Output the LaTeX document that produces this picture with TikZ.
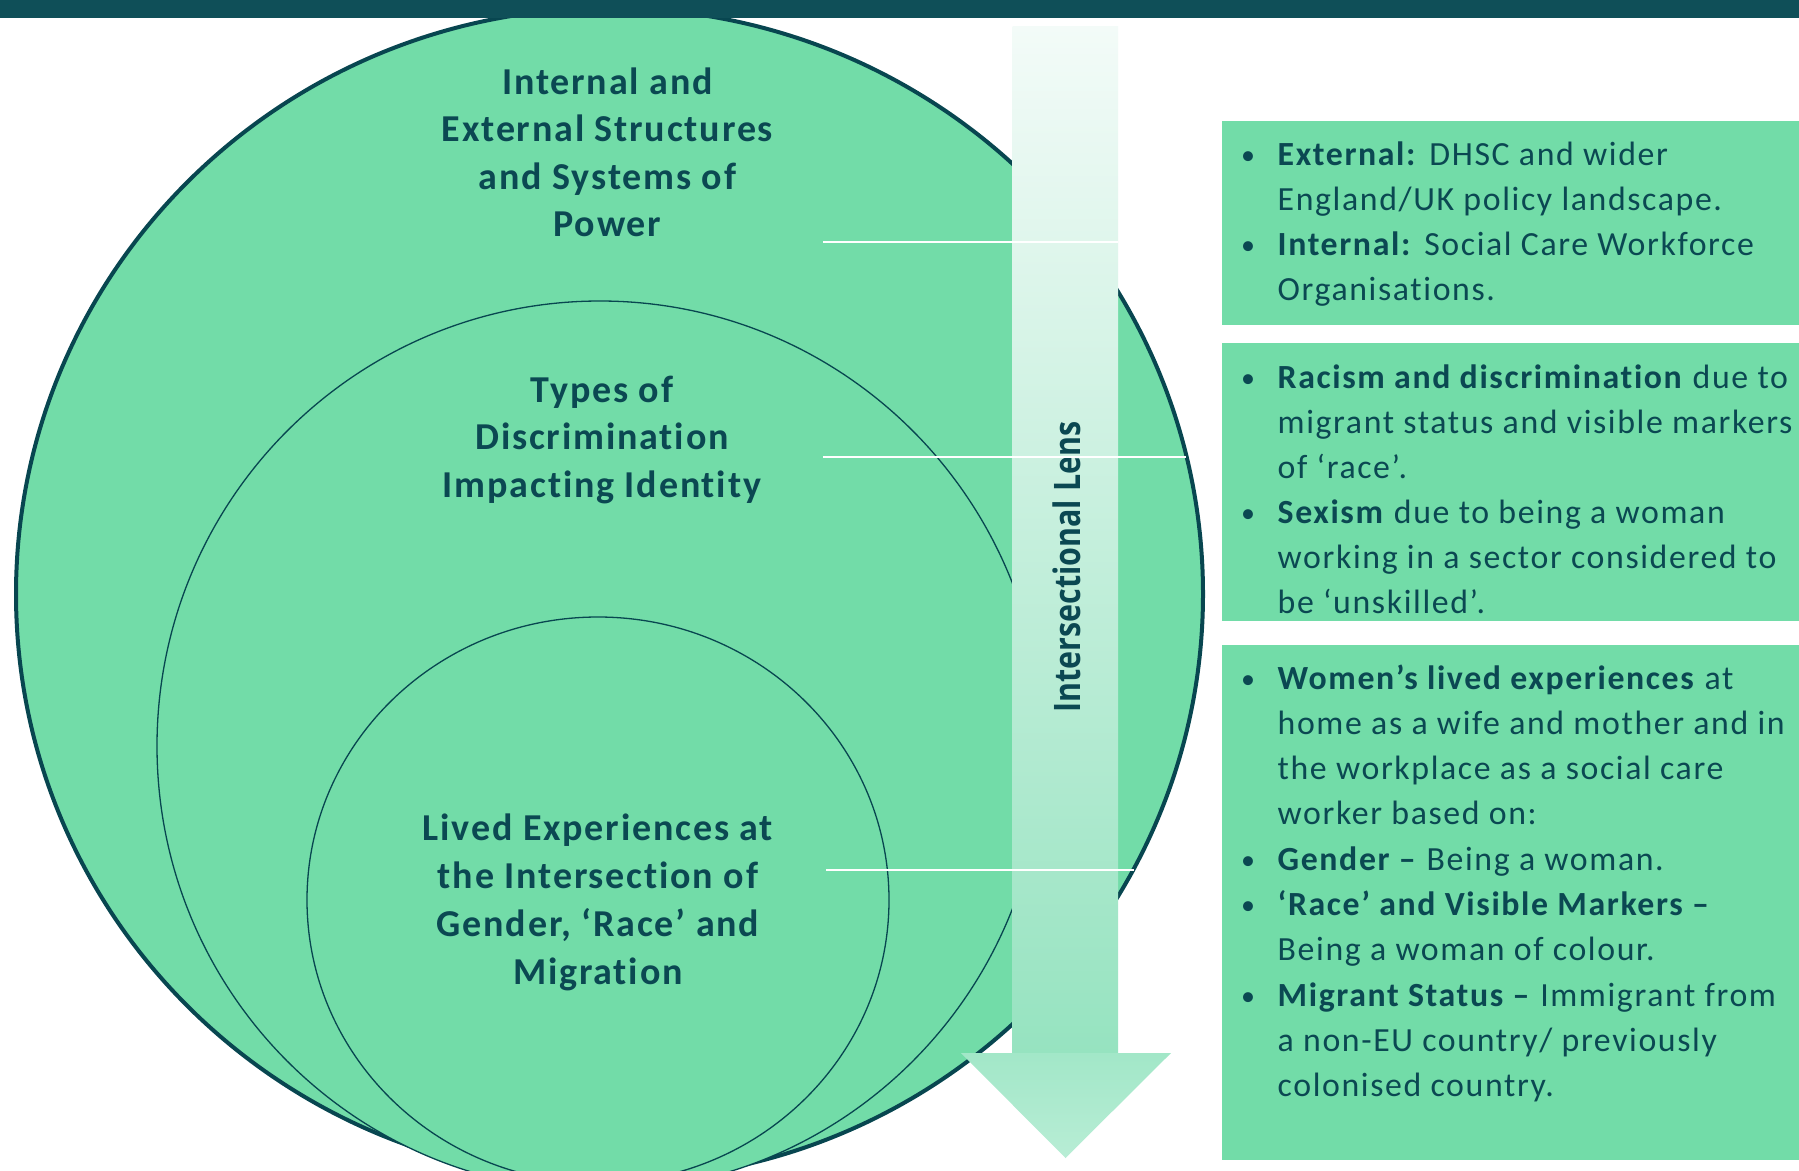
\documentclass[tikz,border=0pt]{standalone}
\usepackage{fontspec}
\setmainfont{Carlito}[LetterSpace=4.8, Ligatures={TeX,NoCommon}]
\newfontfamily\lensfont{Open Sans}
\usepackage{graphicx}
\definecolor{mint}{RGB}{114,220,168}
\definecolor{ink}{RGB}{11,72,82}
\definecolor{barcol}{RGB}{15,79,88}
\definecolor{rim}{RGB}{8,70,80}
\definecolor{arrtop}{RGB}{243,251,248}
\definecolor{arrbot}{RGB}{150,227,192}
\definecolor{headtop}{RGB}{162,231,200}
\definecolor{headbot}{RGB}{184,237,213}
\newcommand{\mybul}{\makebox[36.5pt][l]{\raisebox{1pt}{\fontsize{28}{28}\selectfont •}}}
\newcommand{\myind}{\makebox[36.5pt][l]{}}
\tikzset{
  ctext/.style={inner sep=0pt, text=ink, anchor=base, font=\bfseries\fontsize{38}{47.5}\selectfont},
  btext/.style={inner sep=0pt, text=ink, anchor=base west, font=\fontsize{33.8}{45}\selectfont},
  ring/.style={draw=rim, fill=mint},
  boxfill/.style={fill=mint},
  divider/.style={draw=white, line width=2.6pt}
}
\begin{document}
\begin{tikzpicture}[x=1pt,y=-1pt]
\useasboundingbox (0,0) rectangle (1799,1170);
\fill[white] (0,0) rectangle (1799,1170);
% nested ellipses
\draw[ring, line width=4pt] (609.5,594) ellipse [x radius=593.5, y radius=586];
\draw[ring, line width=1.3pt] (600,746) ellipse [x radius=443, y radius=445];
\draw[ring, line width=1.3pt] (598,900) ellipse [x radius=291, y radius=283];
% top bar
\fill[barcol] (0,0) rectangle (1799,17.5);
% circle labels
\node[ctext] (t1) at (607.5,94) {\begin{tabular}[t]{@{}c@{}}Internal and\\External Structures\\and Systems of\\Power\end{tabular}};
\node[ctext] (t2) at (602,402) {\begin{tabular}[t]{@{}c@{}}Types of\\Discrimination\\Impacting Identity\end{tabular}};
\node[ctext, font=\bfseries\fontsize{38}{48}\selectfont] (t3) at (598,840) {\begin{tabular}[t]{@{}c@{}}Lived Experiences at\\the Intersection of\\Gender, ‘Race’ and\\Migration\end{tabular}};
% arrow
\shade[top color=arrtop, bottom color=arrbot] (1012.5,26) rectangle (1118,1053.5);
\shade[top color=headtop, bottom color=headbot] (961,1053) -- (1171,1053) -- (1065.5,1158) -- cycle;
\node[inner sep=0pt, rotate=90, text=ink] (lens) at (1066.5,567) {\lensfont\bfseries\fontsize{30.4}{36}\selectfont\scalebox{1}[1.2]{Intersectional Lens}};
% dividers
\coordinate (l1a) at (823,242); \coordinate (l1b) at (1118,242);
\coordinate (l2a) at (823,457); \coordinate (l2b) at (1186,457);
\coordinate (l3a) at (826,870); \coordinate (l3b) at (1134,870);
\draw[divider] (l1a) -- (l1b);
\draw[divider] (l2a) -- (l2b);
\draw[divider] (l3a) -- (l3b);
% boxes
\fill[boxfill] (1221.5,120.5) rectangle (1799,324.5);
\fill[boxfill] (1221.5,343) rectangle (1799,620.5);
\fill[boxfill] (1221.5,644.5) rectangle (1799,1160);
\node[btext] (b1) at (1241,165.5) {\begin{tabular}[t]{@{}l@{}}
\mybul\textbf{External:} DHSC and wider\\
\myind England/UK policy landscape.\\
\mybul\textbf{Internal:} Social Care Workforce\\
\myind Organisations.
\end{tabular}};
\node[btext] (b2) at (1241,388) {\begin{tabular}[t]{@{}l@{}}
\mybul\textbf{Racism and discrimination} due to\\
\myind migrant status and visible markers\\
\myind of ‘race’.\\
\mybul\textbf{Sexism} due to being a woman\\
\myind working in a sector considered to\\
\myind be ‘unskilled’.
\end{tabular}};
\node[btext, font=\fontsize{33.8}{45.3}\selectfont] (b3) at (1241,689) {\begin{tabular}[t]{@{}l@{}}
\mybul\textbf{Women’s lived experiences} at\\
\myind home as a wife and mother and in\\
\myind the workplace as a social care\\
\myind worker based on:\\
\mybul\textbf{Gender –} Being a woman.\\
\mybul\textbf{‘Race’ and Visible Markers –}\\
\myind Being a woman of colour.\\
\mybul\textbf{Migrant Status –} Immigrant from\\
\myind a non-EU country/ previously\\
\myind colonised country.
\end{tabular}};
\end{tikzpicture}
\end{document}
